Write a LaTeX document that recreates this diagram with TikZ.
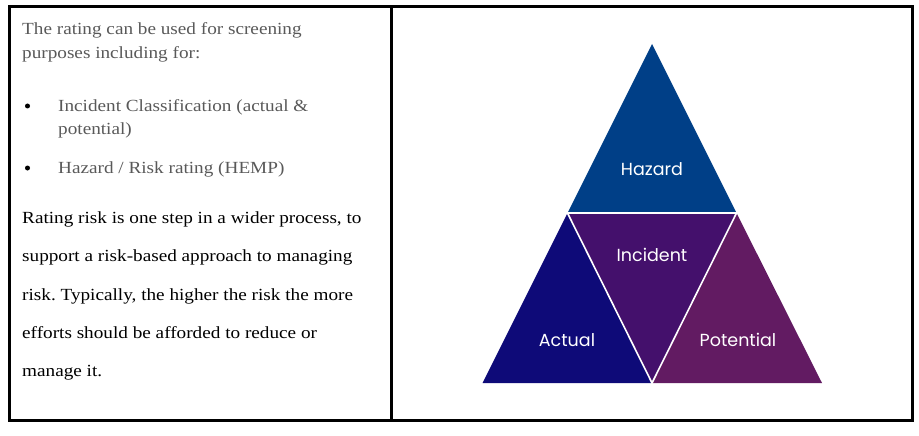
\documentclass[tikz,border=0pt]{standalone}
\usepackage{fontspec}
\setmainfont{Liberation Serif}[FakeStretch=1.13]
\newfontfamily\labfont{Poppins}
\definecolor{hazc}{RGB}{0,63,135}
\definecolor{actc}{RGB}{14,10,120}
\definecolor{incc}{RGB}{68,16,108}
\definecolor{potc}{RGB}{98,27,98}
\definecolor{txtgray}{RGB}{89,89,89}
\tikzset{
  frame/.style={line width=3pt, draw=black},
  txt/.style={anchor=base west, inner sep=0pt, font=\fontsize{17}{20}\selectfont\frenchspacing},
  graytxt/.style={txt, text=txtgray},
  blacktxt/.style={txt, text=black},
  dot/.style={circle, fill=black, inner sep=0pt, minimum size=5pt},
  tri/.style={draw=white, line width=1.6pt, line join=miter},
  lab/.style={text=white, font=\labfont\fontsize{17.5}{20}\selectfont, inner sep=0pt}
}
\begin{document}
\begin{tikzpicture}[x=1pt,y=-1pt]
\useasboundingbox (0,0) rectangle (919,436);
% frames
\draw[frame] (9.5,6.5) rectangle (912.5,420.5);
\draw[frame] (391,6.5) -- (391,420.5);
% left text
\node[graytxt] (t1) at (22,35) {The rating can be used for screening};
\node[graytxt] (t2) at (22,59) {purposes including for:};
\node[dot] (d1) at (27.5,106) {};
\node[graytxt] (b1a) at (58,111.5) {Incident Classification (actual \&};
\node[graytxt] (b1b) at (58,135) {potential)};
\node[dot] (d2) at (27.5,168) {};
\node[graytxt] (b2) at (58,173) {Hazard / Risk rating (HEMP)};
\node[blacktxt] (p1) at (22,223) {Rating risk is one step in a wider process, to};
\node[blacktxt] (p2) at (22,261.5) {support a risk-based approach to managing};
\node[blacktxt] (p3) at (22,300) {risk. Typically, the higher the risk the more};
\node[blacktxt] (p4) at (22,338) {efforts should be afforded to reduce or};
\node[blacktxt] (p5) at (22,376.5) {manage it.};
% triangle
\coordinate (A) at (652,44);
\coordinate (L) at (567.5,213);
\coordinate (R) at (736.5,213);
\coordinate (BL) at (482.5,383);
\coordinate (BM) at (652,383);
\coordinate (BR) at (822,383);
\fill[hazc] (A) -- (L) -- (R) -- cycle;
\fill[actc] (L) -- (BL) -- (BM) -- cycle;
\fill[incc] (L) -- (R) -- (BM) -- cycle;
\fill[potc] (R) -- (BM) -- (BR) -- cycle;
\draw[tri] (L) -- (R) -- (BM) -- cycle;
\node[lab] (hz) at (652,169) {Hazard};
\node[lab] (inc) at (652,255) {Incident};
\node[lab] (act) at (567,340) {Actual};
\node[lab] (pot) at (738,340) {Potential};
\end{tikzpicture}
\end{document}
